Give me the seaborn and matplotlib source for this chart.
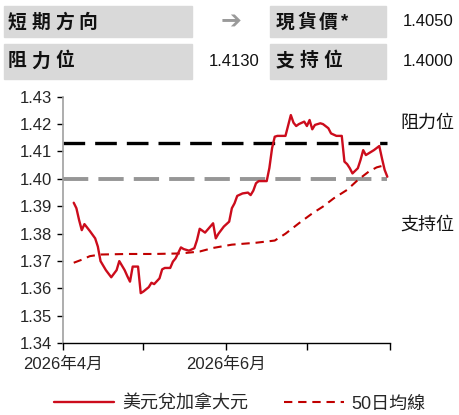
import numpy as np
import pandas as pd
import matplotlib
matplotlib.use("Agg")
import matplotlib.pyplot as plt
import matplotlib.dates as mdates
from matplotlib.patches import Rectangle
import seaborn as sns

# USD/CAD daily close
px_days = ["04-05", "04-06", "04-07", "04-08", "04-09", "04-11", "04-13", "04-14",
           "04-15", "04-17", "04-19", "04-21", "04-22", "04-24", "04-25", "04-26",
           "04-27", "04-29", "04-30", "05-01", "05-03", "05-04", "05-05", "05-07",
           "05-08", "05-09", "05-11", "05-12", "05-13", "05-15", "05-16", "05-18",
           "05-20", "05-21", "05-22", "05-24", "05-27", "05-28", "05-29", "05-31",
           "06-02", "06-03", "06-04", "06-05", "06-07", "06-09", "06-10", "06-11",
           "06-12", "06-13", "06-16", "06-17", "06-18", "06-19", "06-20", "06-23",
           "06-25", "06-26", "06-27", "06-28", "06-30", "07-01", "07-02", "07-03",
           "07-04", "07-06", "07-07", "07-09", "07-10", "07-12", "07-14", "07-15",
           "07-16", "07-17", "07-18", "07-20", "07-21", "07-22", "07-23", "07-24",
           "07-26", "07-28", "07-29", "07-30", "07-31"]
px_vals = [1.3913, 1.3893, 1.3850, 1.3813, 1.3835, 1.3810, 1.3783, 1.3753,
           1.3700, 1.3667, 1.3641, 1.3667, 1.3700, 1.3667, 1.3645, 1.3625,
           1.3680, 1.3680, 1.3583, 1.3589, 1.3605, 1.3621, 1.3616, 1.3637,
           1.3670, 1.3675, 1.3675, 1.3698, 1.3710, 1.3750, 1.3744, 1.3738,
           1.3747, 1.3777, 1.3818, 1.3804, 1.3838, 1.3783, 1.3800, 1.3826,
           1.3844, 1.3893, 1.3911, 1.3938, 1.3947, 1.3950, 1.3941, 1.3957,
           1.3984, 1.3992, 1.3992, 1.4040, 1.4112, 1.4154, 1.4157, 1.4157,
           1.4233, 1.4205, 1.4193, 1.4200, 1.4209, 1.4193, 1.4215, 1.4181,
           1.4197, 1.4203, 1.4200, 1.4185, 1.4166, 1.4157, 1.4157, 1.4063,
           1.4054, 1.4039, 1.4020, 1.4039, 1.4069, 1.4105, 1.4087, 1.4093,
           1.4105, 1.4120, 1.4075, 1.4033, 1.4008]

# 50-day moving average
ma_days = ["04-05", "04-08", "04-11", "04-15", "04-25", "05-05", "05-15", "05-22",
           "05-27", "06-03", "06-12", "06-19", "06-23", "06-28", "07-03", "07-07",
           "07-11", "07-16", "07-20", "07-24", "07-27", "07-30"]
ma_vals = [1.3694, 1.3705, 1.3718, 1.3724, 1.3726, 1.3726, 1.3728, 1.3735,
           1.3748, 1.3760, 1.3767, 1.3775, 1.3800, 1.3838, 1.3874, 1.3899,
           1.3929, 1.3960, 1.3996, 1.4026, 1.4042, 1.4050]

resistance = 1.4130
support = 1.4000
spot = 1.4050

hdr_labels = ["短期方向", "現貨價*", "阻力位", "支持位"]
hdr_values = ["➔", "1.4050", "1.4130", "1.4000"]
series_names = ["美元兌加拿大元", "50日均線"]

df_px = pd.DataFrame({"date": pd.to_datetime(["2026-" + d for d in px_days]), "rate": px_vals})
df_ma = pd.DataFrame({"date": pd.to_datetime(["2026-" + d for d in ma_days]), "rate": ma_vals})

sns.set_style("white")
plt.rcParams["font.family"] = ["Liberation Sans", "Noto Sans CJK TC", "DejaVu Sans"]

W, H = 459, 415
fig = plt.figure(figsize=(W / 100, H / 100), dpi=100)

def fx(p):
    return p / W

def fy(p):
    return 1 - p / H

# header table
grey = "#D9D9D9"
fig.patches.append(Rectangle((fx(4), fy(37)), fx(188), 31 / H, transform=fig.transFigure, color=grey, zorder=0))
fig.patches.append(Rectangle((fx(270), fy(37)), fx(116), 31 / H, transform=fig.transFigure, color=grey, zorder=0))
fig.patches.append(Rectangle((fx(4), fy(79)), fx(188), 35 / H, transform=fig.transFigure, color=grey, zorder=0))
fig.patches.append(Rectangle((fx(270), fy(79)), fx(116), 35 / H, transform=fig.transFigure, color=grey, zorder=0))

cjk = ["Noto Sans CJK TC", "DejaVu Sans"]

def spaced(txt, x0, yc, stride):
    for i, ch in enumerate(txt):
        fig.text(fx(x0 + i * stride), fy(yc), ch, fontsize=13.5, fontweight="bold",
                 family=["Liberation Sans"] + cjk if ch == "*" else cjk,
                 va="center", ha="left", color="#111111")

spaced(hdr_labels[0], 8, 22, 23.5)
spaced(hdr_labels[1], 276, 22, 21.5)
spaced(hdr_labels[2], 8, 61, 23.5)
spaced(hdr_labels[3], 276, 61, 23.5)

fig.text(fx(231.5), fy(21), hdr_values[0], fontsize=18, color="#9A9A9A",
         family=["DejaVu Sans"], ha="center", va="center")
fig.text(fx(453), fy(22), hdr_values[1], fontsize=12, ha="right", va="center", color="#111111")
fig.text(fx(259), fy(61), hdr_values[2], fontsize=12, ha="right", va="center", color="#111111")
fig.text(fx(453), fy(61), hdr_values[3], fontsize=12, ha="right", va="center", color="#111111")

# chart
ax = fig.add_axes([fx(63), fy(343.3), fx(390 - 63), (343.3 - 96.7) / H])

x0 = pd.Timestamp("2026-04-01")
x1 = pd.Timestamp("2026-08-01")
line_end = df_px["date"].iloc[-1]

ax.hlines(resistance, x0, line_end, colors="black", lw=2.4, linestyles=(0, (6.5, 3)), zorder=2)
ax.hlines(support, x0, line_end, colors="#969696", lw=2.8, linestyles=(0, (6.5, 2.6)), zorder=2)

sns.lineplot(data=df_ma, x="date", y="rate", ax=ax, color="#C00000", lw=1.5,
             linestyle=(0, (4, 2.8)), label=series_names[1], zorder=3)
sns.lineplot(data=df_px, x="date", y="rate", ax=ax, color="#CC0C1C", lw=1.7,
             label=series_names[0], zorder=4)

ax.set_xlim(x0, x1)
ax.set_ylim(1.34, 1.43)
ax.set_yticks(np.arange(1.34, 1.4301, 0.01))
ax.yaxis.set_major_formatter(matplotlib.ticker.FormatStrFormatter("%.2f"))
ax.xaxis.set_major_locator(mdates.MonthLocator(bymonth=[4, 6]))
ax.xaxis.set_minor_locator(mdates.MonthLocator())
ax.xaxis.set_major_formatter(matplotlib.ticker.FuncFormatter(
    lambda v, p: f"{mdates.num2date(v).year}年{mdates.num2date(v).month}月"))
ax.set_xlabel("")
ax.set_ylabel("")

for s in ["top", "right"]:
    ax.spines[s].set_visible(False)
ax.spines["left"].set_color("#A0A0A0")
ax.spines["left"].set_linewidth(1.2)
ax.spines["bottom"].set_color("black")
ax.spines["bottom"].set_linewidth(1.0)

ax.tick_params(axis="y", which="major", direction="out", length=4, width=1, color="black",
               labelsize=12, pad=4, left=True)
ax.tick_params(axis="x", which="both", direction="out", length=5, width=1, color="black",
               labelsize=12, pad=5, bottom=True)
ax.grid(False)

fig.text(fx(400), fy(123), "阻力位", fontsize=13, family=cjk, va="center", ha="left", color="#111111")
fig.text(fx(400), fy(225), "支持位", fontsize=13, family=cjk, va="center", ha="left", color="#111111")

handles, labels = ax.get_legend_handles_labels()
ax.get_legend().remove()
order = [labels.index(n) for n in series_names]
leg = fig.legend([handles[i] for i in order], [labels[i] for i in order],
                 loc="center", bbox_to_anchor=(fx(240), fy(404)), ncol=2, frameon=False,
                 handlelength=3.3, columnspacing=2.0, handletextpad=0.45,
                 prop={"family": ["Liberation Sans"] + cjk, "size": 13})

fig.savefig("out.png", dpi=100)
